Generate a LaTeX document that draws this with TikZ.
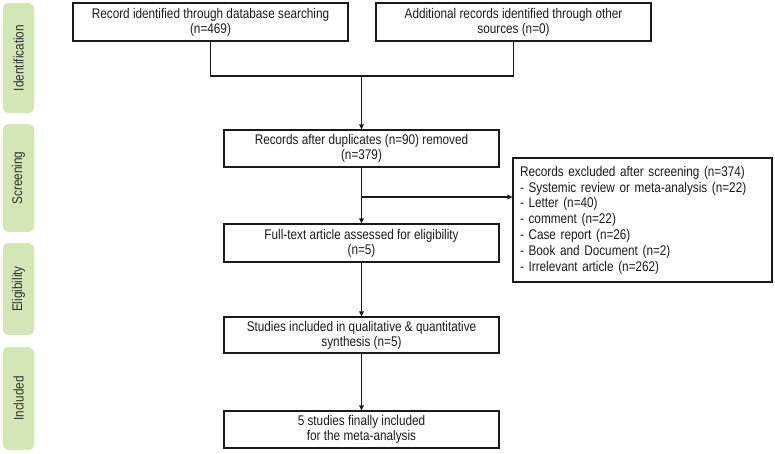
\documentclass[tikz,border=0pt]{standalone}
\usepackage{fontspec}
\setmainfont[FakeStretch=0.84]{Liberation Sans}
\usetikzlibrary{arrows.meta}
\definecolor{sidegreen}{HTML}{D4E6B5}
\definecolor{ink}{HTML}{1A1A1A}
\tikzset{
  box/.style={draw=ink, line width=1.2pt, text=ink, align=center, inner sep=2pt,
    font=\fontsize{14}{15}\selectfont},
  side/.style={fill=sidegreen, rounded corners=5pt, minimum width=31pt, text=ink!90,
    font=\fontsize{14}{15}\selectfont},
  conn/.style={draw=ink, line width=1.2pt},
  arr/.style={conn, -{Triangle[length=5pt,width=4.5pt]}},
}
\begin{document}
\begin{tikzpicture}[x=1pt,y=-1pt]
\useasboundingbox (0,0) rectangle (775,453);
% side bars
\node[side, minimum height=110pt] (s1) at (18.5,58) {\rotatebox{90}{Identification}};
\node[side, minimum height=108pt] (s2) at (18.5,178) {\rotatebox{90}{Screening}};
\node[side, minimum height=92pt] (s3) at (18.5,289) {\rotatebox{90}{Eligibility}};
\node[side, minimum height=103pt] (s4) at (18.5,398.5) {\rotatebox{90}{Included}};
% boxes
\node[box, minimum width=275pt, minimum height=38pt] (A) at (210.5,22) {Record identified through database searching\\(n=469)};
\node[box, minimum width=275pt, minimum height=38pt] (B) at (513.5,22) {Additional records identified through other\\sources (n=0)};
\node[box, minimum width=275pt, minimum height=37pt] (C) at (361.5,148.5) {Records after duplicates (n=90) removed\\(n=379)};
\node[box, minimum width=275pt, minimum height=38pt] (D) at (361.5,243) {Full-text article assessed for eligibility\\(n=5)};
\node[box, minimum width=259pt, minimum height=124pt, text width=245pt, align=left, inner sep=6pt,
  font=\fontsize{14}{15.8}\selectfont] (E) at (642.5,220) {Records excluded after screening (n=374)\\
- Systemic review or meta-analysis (n=22)\\
- Letter (n=40)\\
- comment (n=22)\\
- Case report (n=26)\\
- Book and Document (n=2)\\
- Irrelevant article (n=262)};
\node[box, minimum width=275pt, minimum height=36pt] (F) at (361.5,335) {Studies included in qualitative \& quantitative\\synthesis (n=5)};
\node[box, minimum width=275pt, minimum height=37pt] (G) at (361.5,429.5) {5 studies finally included\\for the meta-analysis};
% connectors
\coordinate (j) at (361.5,76);
\coordinate (br) at (361.5,197);
\draw[conn] (A.south) |- (j) -| (B.south);
\draw[arr] (j) -- (C.north);
\draw[arr] (C.south) -- (D.north);
\draw[arr] (br) -- (br -| E.west);
\draw[arr] (D.south) -- (F.north);
\draw[arr] (F.south) -- (G.north);
\end{tikzpicture}
\end{document}
